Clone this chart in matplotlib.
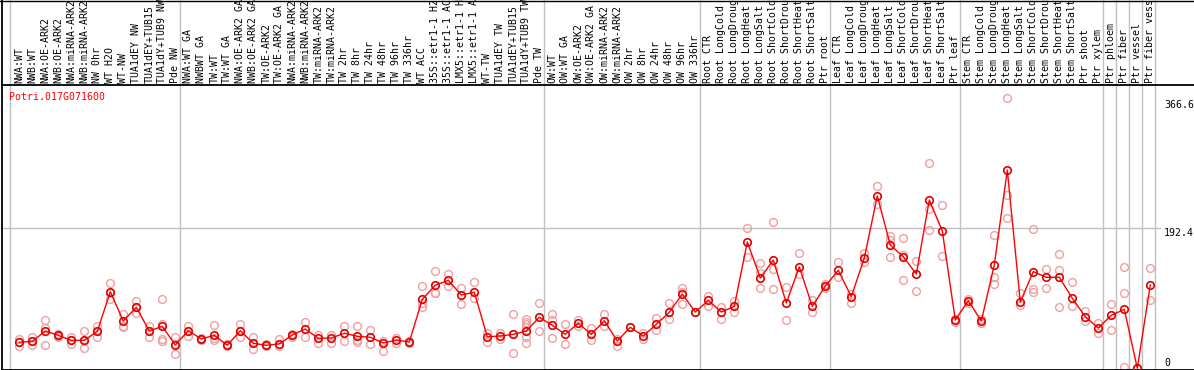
import matplotlib
matplotlib.use("Agg")
import matplotlib.pyplot as plt
from matplotlib.lines import Line2D
from matplotlib.transforms import blended_transform_factory

gene = "Potri.017G071600"

labels = [
    "NWA:WT", "NWB:WT", "NWA:OE-ARK2", "NWB:OE-ARK2", "NWA:miRNA-ARK2", "NWB:miRNA-ARK2",
    "NW 0hr", "WT H2O", "WT-NW", "TUA1dEY NW", "TUA1dEY+TUB15", "TUA1dY+TUB9 NW", "Pde NW",
    "NWA:WT GA", "NWBWT GA", "TW:WT", "TW:WT GA", "NWA:OE-ARK2 GA", "NWB:OE-ARK2 GA",
    "TW:OE-ARK2", "TW:OE-ARK2 GA", "NWA:miRNA-ARK2", "NWB:miRNA-ARK2", "TW:miRNA-ARK2",
    "TW:miRNA-ARK2", "TW 2hr", "TW 8hr", "TW 24hr", "TW 48hr", "TW 96hr", "TW 336hr",
    "WT ACC", "35S::etr1-1 H2", "35S::etr1-1 AC", "LMX5::etr1-1 H", "LMX5::etr1-1 A",
    "WT-TW", "TUA1dEY TW", "TUA1dEY+TUB15", "TUA1dY+TUB9 TW", "Pde TW",
    "OW:WT", "OW:WT GA", "OW:OE-ARK2", "OW:OE-ARK2 GA", "OW:miRNA-ARK2", "OW:miRNA-ARK2",
    "OW 2hr", "OW 8hr", "OW 24hr", "OW 48hr", "OW 96hr", "OW 336hr",
    "Root CTR", "Root LongCold", "Root LongDroug", "Root LongHeat", "Root LongSalt",
    "Root ShortCold", "Root ShortDrou", "Root ShortHeat", "Root ShortSalt", "Ptr root",
    "Leaf CTR", "Leaf LongCold", "Leaf LongDroug", "Leaf LongHeat", "Leaf LongSalt",
    "Leaf ShortCold", "Leaf ShortDrou", "Leaf ShortHeat", "Leaf ShortSalt", "Ptr leaf",
    "Stem CTR", "Stem LongCold", "Stem LongDroug", "Stem LongHeat", "Stem LongSalt",
    "Stem ShortCold", "Stem ShortDrou", "Stem ShortHeat", "Stem ShortSalt", "Ptr shoot",
    "Ptr xylem", "Ptr phloem", "Ptr fiber", "Ptr vessel", "Ptr fiber vess",
]

group_sizes = [13, 28, 12, 10, 10, 11, 1, 1, 1, 1]

means = [
    35.6, 36.9, 51.0, 45.1, 38.3, 38.3, 50.6, 104.8, 64.7, 83.5, 51.0, 57.5, 31.9,
    51.5, 40.1, 45.1, 31.5, 51.5, 34.2, 31.5, 33.3, 45.6, 53.8, 41.0, 41.5, 47.9, 43.8,
    42.4, 34.6, 38.7, 36.0, 94.4, 113.6, 120.4, 100.3, 104.0, 43.2, 44.2, 46.5, 51.0, 69.8,
    58.8, 46.5, 61.6, 46.5, 65.1, 37.4, 56.1, 44.2, 60.2, 76.6, 101.7, 77.0,
    93.0, 77.0, 84.8, 172.8, 123.6, 148.2, 89.4, 138.6, 84.8, 112.6,
    134.1, 98.0, 150.9, 235.8, 168.7, 152.7, 129.0, 230.3, 187.9, 66.1,
    92.5, 64.7, 141.4, 271.3, 90.7, 132.3, 124.5, 124.5, 95.8, 70.6,
    55.1, 72.5, 80.7, 0.0, 114.0,
]

replicates = [
    [39.7, 30.5, 35.6], [43.2, 31.5, 36.9], [66.0, 54.7, 31.5], [46.5, 44.6, 43.2],
    [43.2, 33.3, 38.3], [50.6, 27.4, 37.0], [57.9, 42.4, 50.6], [116.7, 94.4, 103.5],
    [73.9, 57.9, 56.1], [92.1, 75.3, 83.5], [57.9, 43.2, 51.0], [94.8, 60.6, 39.7, 37.8],
    [42.4, 19.2, 33.0],
    [57.9, 44.2, 51.5], [41.5, 38.7, 40.1], [58.8, 38.7, 41.0], [33.0, 30.0],
    [60.2, 43.2, 51.5], [42.4, 26.0, 34.2], [33.0, 30.0], [39.7, 31.0], [46.5, 43.2],
    [63.4, 43.2], [46.0, 35.0], [46.0, 35.0], [57.9, 37.8], [57.9, 38.7, 36.5],
    [52.4, 32.8], [37.0, 24.1], [41.0, 35.0], [37.0, 35.0], [112.6, 88.9, 83.5],
    [133.1, 103.4, 103.0], [129.0, 112.6], [109.5, 88.0], [118.1, 95.8], [48.7, 36.4],
    [48.7, 39.7], [73.9, 20.5, 46.5], [68.0, 64.0, 60.0, 57.0, 43.0, 35.0], [88.9, 51.0],
    [74.3, 66.1, 41.0], [60.2, 32.8], [65.7, 58.0], [54.7, 38.7], [74.3, 57.9],
    [40.0, 30.9], [56.1], [48.0, 40.0], [69.2, 52.4], [89.8, 67.5], [110.3, 105.0, 87.6],
    [77.0],
    [99.3, 85.7], [83.9, 67.0], [92.5, 77.4], [191.6, 152.3], [143.7, 109.5, 130.0],
    [200.2, 135.5, 108.5], [111.2, 65.7], [157.4, 129.0], [93.5, 77.0], [116.0, 110.0],
    [145.5, 125.3], [101.0, 89.8], [157.4, 145.0], [249.5, 224.8], [181.0, 152.3, 175.0],
    [178.3, 120.8, 155.0], [146.8, 105.4], [281.2, 218.4, 189.2], [223.0, 154.0],
    [68.0, 64.0],
    [95.0, 89.0], [68.0, 62.0], [182.4, 125.3, 115.0], [369.5, 236.7, 205.3],
    [103.4, 86.6], [190.2, 108.1, 104.0], [135.9, 109.5], [156.4, 134.5, 83.5],
    [117.7, 85.2], [78.8, 65.1],
    [62.4, 47.9], [88.0, 52.4], [138.6, 102.6, 1.4], [0.0], [136.8, 93.5],
]

y_ticks = [366.6, 192.4, 0]

FONT = "DejaVu Sans Mono"
FS = 7.1
GRAY = "#c0c0c0"
RED = "#ff0000"
PINK = "#f0a0a0"

W, H = 1194, 370
fig = plt.figure(figsize=(W / 100, H / 100), dpi=100)

ax_left_px, ax_top_px, ax_bot_px = 2, 85, 369.5
ax = fig.add_axes([ax_left_px / W, (H - ax_bot_px) / H,
                   (W - ax_left_px) / W, (ax_bot_px - ax_top_px) / H])
ax.set_facecolor("none")

x0_px, dx_px = 19.3, 13.0
ax.set_xlim((ax_left_px - x0_px) / dx_px, (W - x0_px) / dx_px)
y0_px, scale = 368.3, 0.7308
ax.set_ylim((y0_px - ax_bot_px) / scale, (y0_px - ax_top_px) / scale)

ax.spines["right"].set_visible(False)
for s in ["left", "top", "bottom"]:
    ax.spines[s].set_linewidth(1.3)
    ax.spines[s].set_color("black")
ax.set_xticks([])
ax.set_yticks([])

xs = list(range(len(means)))
bt = blended_transform_factory(ax.transData, fig.transFigure)

# vertical group separators (full height)
bounds = [-0.7]
acc = 0
for g in group_sizes:
    acc += g
    bounds.append(acc - 1 + 0.37)
for b in bounds:
    fig.add_artist(Line2D([b, b], [0, 1], transform=bt, color=GRAY, lw=1.0, zorder=0))

# horizontal grid line
ax.plot([ax.get_xlim()[0], (1160 - x0_px) / dx_px], [192.4, 192.4], color=GRAY, lw=1.0, zorder=0)

# header frame
fig.add_artist(Line2D([ax_left_px / W, ax_left_px / W], [(H - ax_top_px) / H, 1],
                      color="black", lw=1.3))
fig.add_artist(Line2D([0, 1], [1 - 0.5 / H, 1 - 0.5 / H], color="black", lw=1.0))

# replicate points
for x, reps in zip(xs, replicates):
    ax.plot([x] * len(reps), reps, linestyle="none", marker="o", ms=5.6, mfc="none",
            mec=PINK, mew=1.0, zorder=2, clip_on=False)

# mean line
ax.plot(xs, means, color=RED, lw=1.0, marker="o", ms=5.4, mfc="none", mec="#e00000",
        mew=1.2, zorder=3, clip_on=False)

# column labels
for x, lab in zip(xs, labels):
    ax.text(x, (H - 83) / H, lab, transform=bt, rotation=90, ha="center", va="bottom",
            fontsize=FS, family=FONT, color="black", clip_on=False)

# gene name
ax.text((9.3 - ax_left_px) / (W - ax_left_px), (ax_bot_px - 97.3) / (ax_bot_px - ax_top_px),
        gene, transform=ax.transAxes, ha="left", va="center", fontsize=FS, family=FONT,
        color=RED)

# right value labels
lab_x = (1164 - x0_px) / dx_px
for v in y_ticks:
    va = "bottom" if v == 0 else "top"
    ax.text(lab_x, v, f"{v:g}", ha="left", va=va, fontsize=FS, family=FONT,
            color="black", clip_on=False)

fig.savefig("out.png", dpi=100)
